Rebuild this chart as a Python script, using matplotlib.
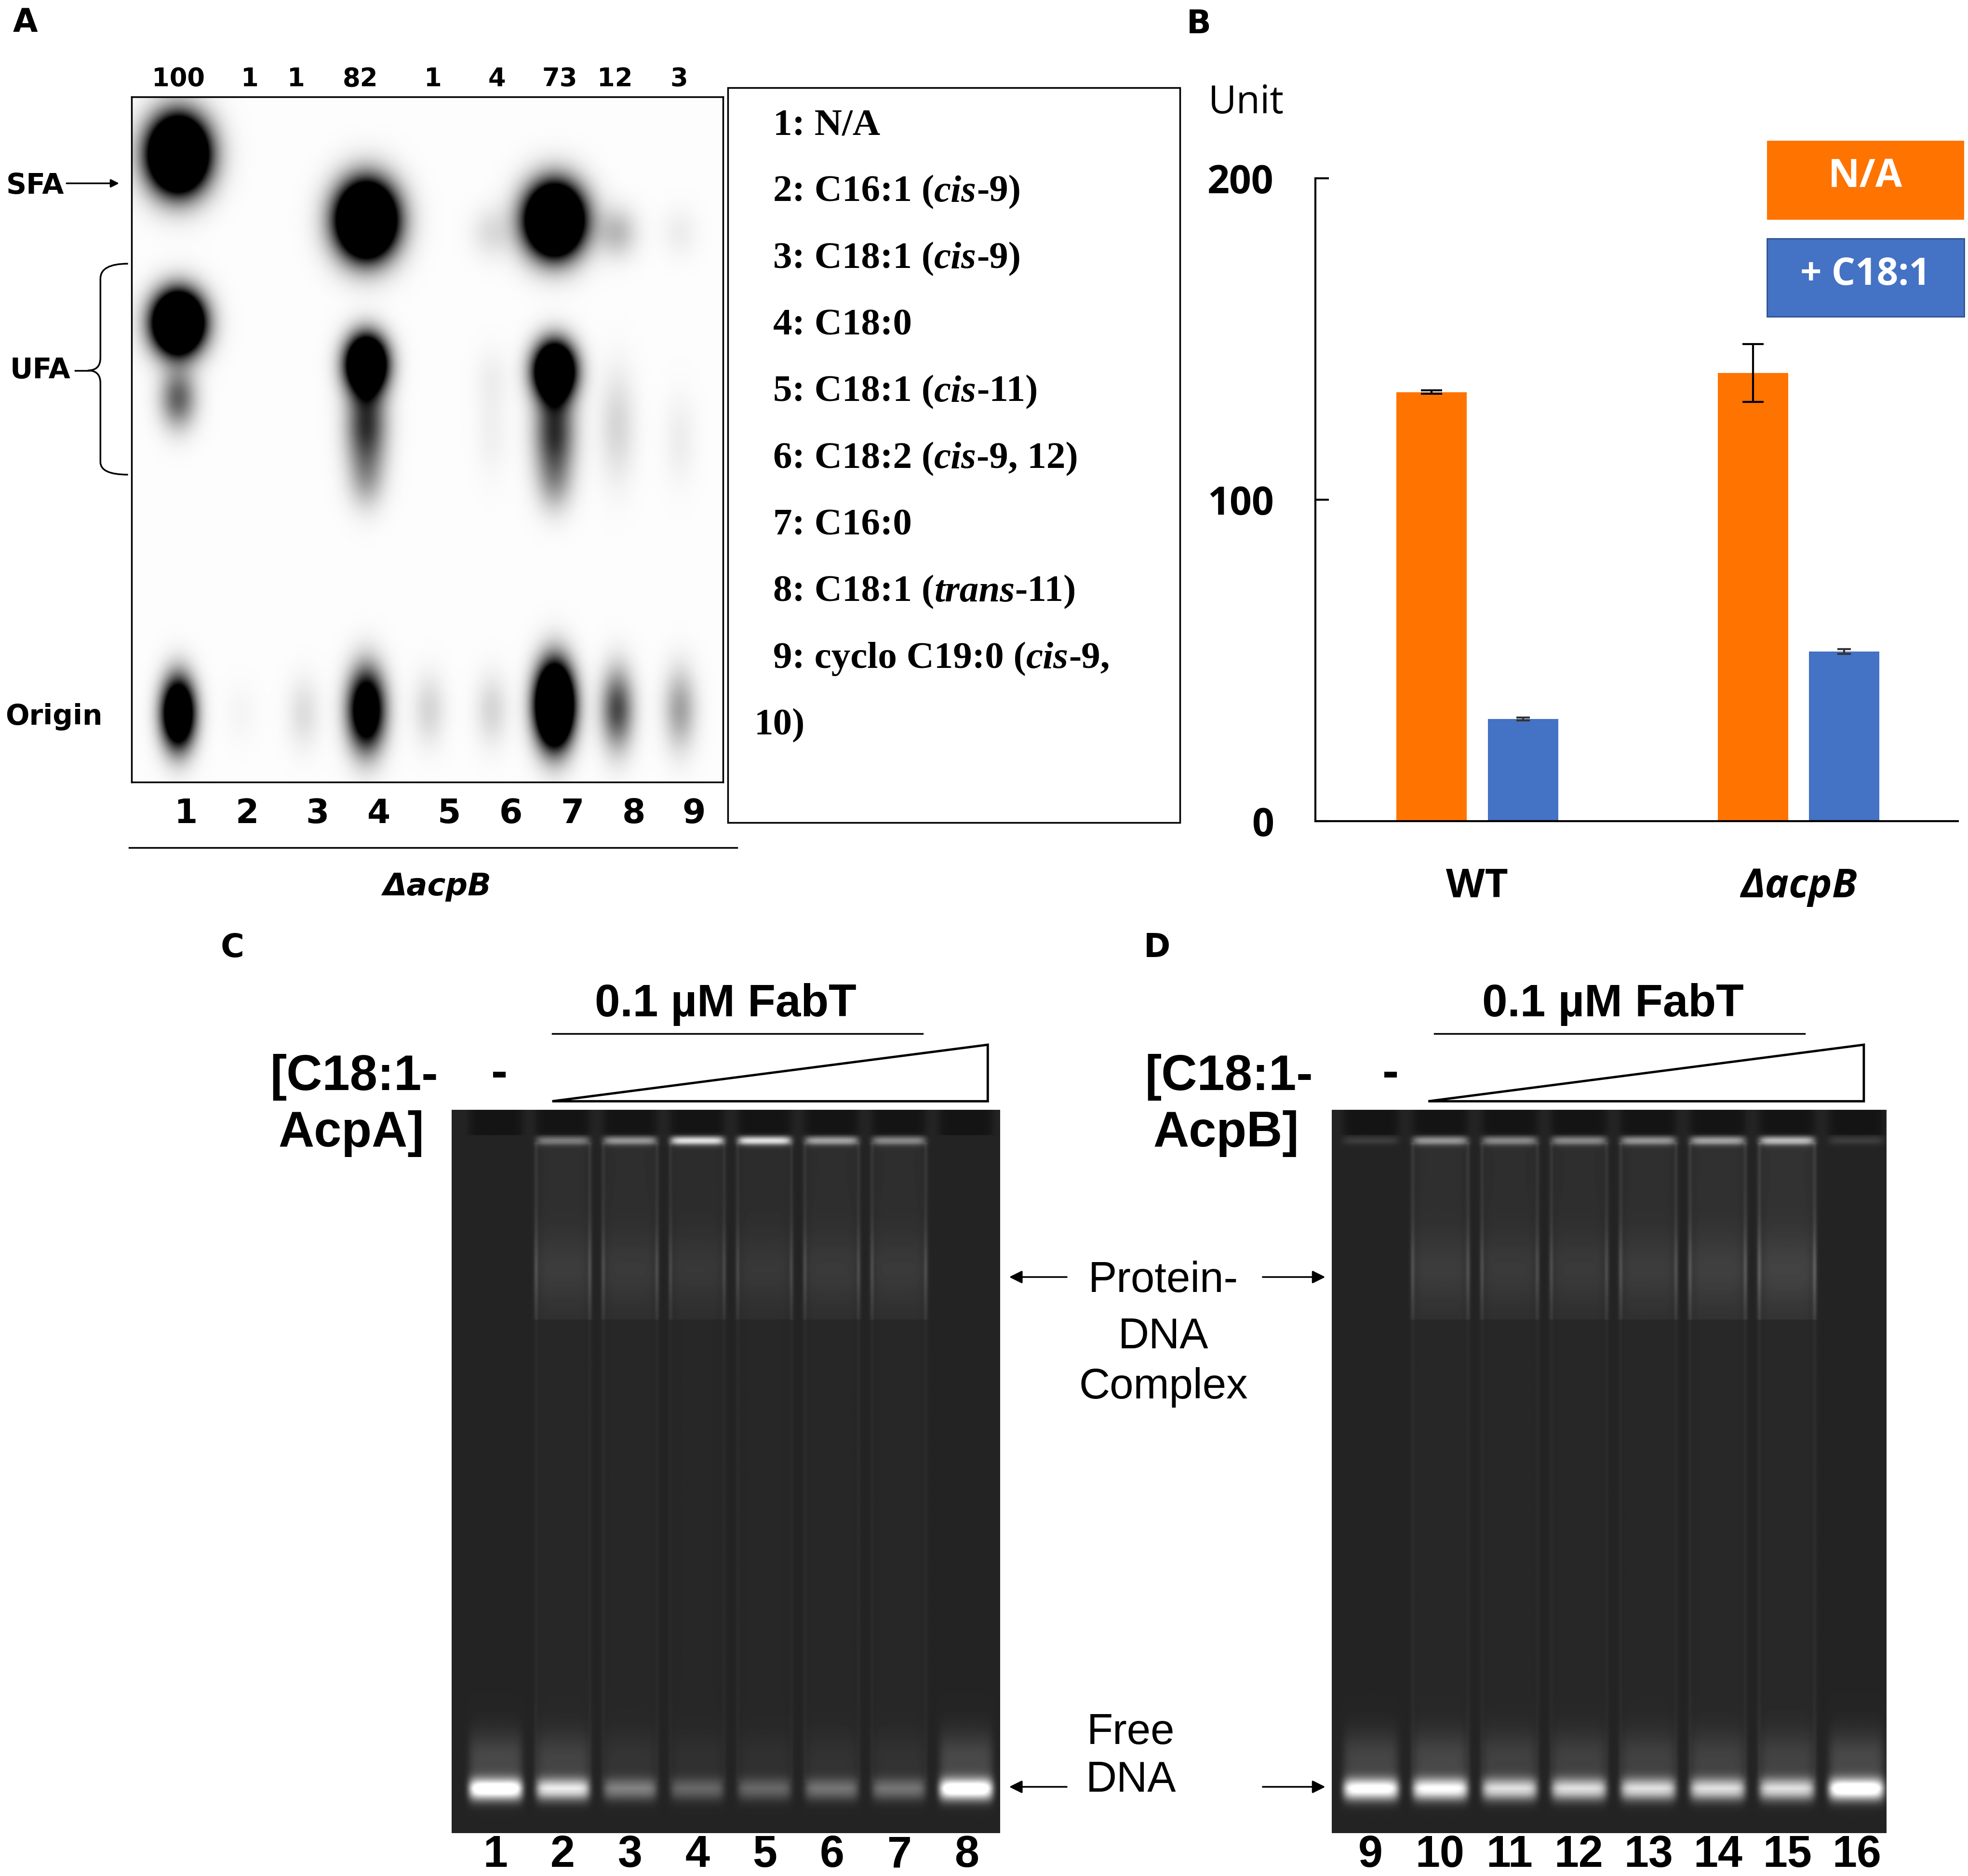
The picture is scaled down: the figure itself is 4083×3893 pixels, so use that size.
import numpy as np
import matplotlib.pyplot as plt
from matplotlib.patches import Rectangle, Polygon, PathPatch
from matplotlib.path import Path
from matplotlib.offsetbox import TextArea, HPacker, AnnotationBbox

# ---------------- data ----------------
# Panel A: TLC plate, lanes and the quantities printed over them
tlc_lanes = [1, 2, 3, 4, 5, 6, 7, 8, 9]
tlc_values = ['100', '1', '1', '82', '1', '4', '73', '12', '3']

# TLC spots: lane, position down the plate (0 = top, 1 = bottom), strength, spread
spot_lane = [1, 1, 1, 1, 2, 3, 4, 4, 4, 4, 4, 5, 6, 6, 6, 6,
             7, 7, 7, 7, 7, 8, 8, 8, 9, 9, 9]
spot_pos = [0.084, 0.33, 0.44, 0.90, 0.90, 0.90, 0.18, 0.39, 0.48, 0.56, 0.895,
            0.895, 0.198, 0.41, 0.49, 0.895, 0.18, 0.40, 0.49, 0.565, 0.888,
            0.198, 0.48, 0.894, 0.198, 0.50, 0.894]
spot_amp = [3.0, 3.0, 0.6, 2.0, 0.03, 0.12, 3.0, 2.5, 0.8, 0.25, 1.6,
            0.15, 0.12, 0.05, 0.05, 0.15, 3.0, 2.5, 0.8, 0.25, 3.0,
            0.25, 0.15, 0.7, 0.06, 0.06, 0.35]
spot_wx = [0.32, 0.27, 0.20, 0.18, 0.18, 0.18, 0.32, 0.22, 0.22, 0.20, 0.20,
           0.18, 0.22, 0.18, 0.18, 0.18, 0.31, 0.22, 0.22, 0.20, 0.20,
           0.22, 0.20, 0.18, 0.20, 0.18, 0.18]
spot_wy = [0.037, 0.030, 0.030, 0.035, 0.030, 0.035, 0.037, 0.028, 0.045, 0.030, 0.040,
           0.035, 0.025, 0.030, 0.045, 0.035, 0.035, 0.028, 0.045, 0.030, 0.040,
           0.025, 0.055, 0.040, 0.025, 0.045, 0.040]

legend_a = [('1: N/A', '', ''),
            ('2: C16:1 (', 'cis', '-9)'),
            ('3: C18:1 (', 'cis', '-9)'),
            ('4: C18:0', '', ''),
            ('5: C18:1 (', 'cis', '-11)'),
            ('6: C18:2 (', 'cis', '-9, 12)'),
            ('7: C16:0', '', ''),
            ('8: C18:1 (', 'trans', '-11)'),
            ('9: cyclo C19:0 (', 'cis', '-9,'),
            ('10)', '', '')]

# Panel B: bar chart
groups = ['WT', 'ΔacpB']
unit_na = [133.5, 139.5]
unit_na_err = [0.5, 9.0]
unit_c18 = [31.8, 52.8]
unit_c18_err = [0.4, 0.8]

# Panels C and D: EMSA gels, per-lane band strengths
gelC_lanes = [1, 2, 3, 4, 5, 6, 7, 8]
gelC_top = [0.0, 0.35, 0.45, 0.75, 0.75, 0.5, 0.4, 0.0]
gelC_complex = [0.0, 0.22, 0.20, 0.18, 0.18, 0.20, 0.20, 0.0]
gelC_free = [1.0, 0.75, 0.35, 0.25, 0.25, 0.30, 0.30, 1.0]

gelD_lanes = [9, 10, 11, 12, 13, 14, 15, 16]
gelD_top = [0.1, 0.45, 0.40, 0.40, 0.45, 0.50, 0.60, 0.1]
gelD_complex = [0.0, 0.22, 0.20, 0.20, 0.22, 0.25, 0.28, 0.0]
gelD_free = [0.9, 0.85, 0.70, 0.70, 0.70, 0.70, 0.70, 1.0]

# ---------------- layout helpers ----------------
W, H = 1568, 1494   # layout grid, 1 unit = 2.604 output pixels
orange = '#FF7300'
blue = '#4472C4'
sans = ['DejaVu Sans']
office = ['Open Sans', 'DejaVu Sans']
arial = ['Liberation Sans', 'DejaVu Sans']
serif = ['Liberation Serif', 'DejaVu Serif']


def rect(x0, y0, x1, y1):
    return [x0 / W, 1 - y1 / H, (x1 - x0) / W, (y1 - y0) / H]


fig = plt.figure(figsize=(40.83, 38.93), dpi=100)

# ---------------- panel A: TLC plate ----------------
axa = fig.add_axes(rect(105, 77, 576, 623))
x0, x1 = 0.26, 9.68
xs = np.linspace(x0, x1, 900)
ys = np.linspace(0, 1, 1050)
X, Y = np.meshgrid(xs, ys)
plate = np.zeros_like(X)
for ln, p, a, wx, wy in zip(spot_lane, spot_pos, spot_amp, spot_wx, spot_wy):
    plate += a * np.exp(-0.5 * (((X - ln) / wx) ** 2 + ((Y - p) / wy) ** 2))
plate = np.clip(plate, 0, 1) + 0.01
axa.imshow(plate, cmap='gray_r', vmin=0, vmax=1, extent=(x0, x1, 1, 0),
           aspect='auto', interpolation='bilinear')
axa.set_xlim(x0, x1)
axa.set_ylim(1, 0)
axa.set_xticks([])
axa.set_yticks([])
for s in axa.spines.values():
    s.set_linewidth(2.5)

# ---------------- panel B: bar chart ----------------
axb = fig.add_axes(rect(1048, 142, 1560, 654))
axb.patch.set_visible(False)
xg = np.arange(len(groups))
bw = 0.219
axb.bar(xg - 0.142, unit_na, bw, color=orange, yerr=unit_na_err,
        error_kw=dict(ecolor='black', elinewidth=3, capsize=16, capthick=3))
axb.bar(xg + 0.142, unit_c18, bw, color=blue, yerr=unit_c18_err,
        error_kw=dict(ecolor='#333333', elinewidth=3, capsize=10, capthick=3))
axb.set_xlim(-0.504, 1.496)
axb.set_ylim(0, 200)
axb.set_yticks([0, 100, 200])
axb.set_yticklabels(['0', '100', '200'], fontfamily=office, fontweight='bold')
axb.set_xticks(xg)
axb.set_xticklabels(groups, fontfamily=office, fontweight='bold')
axb.get_xticklabels()[1].set_fontstyle('italic')
for s in ['top', 'right']:
    axb.spines[s].set_visible(False)
for s in ['left', 'bottom']:
    axb.spines[s].set_linewidth(3)
axb.tick_params(axis='y', direction='in', length=20, width=3, pad=62, labelsize=58)
axb.tick_params(axis='x', length=0, pad=68, labelsize=60)


# ---------------- panels C and D: gels ----------------
def gel_image(lanes, top, cx, free, gx0, gx1):
    gx = np.linspace(gx0, gx1, 600)
    gy = np.linspace(0, 1, 800)
    GX, GY = np.meshgrid(gx, gy)
    img = np.full(GX.shape, 0.14)
    for c, t, m, f in zip(lanes, top, cx, free):
        d = np.abs(GX - c)
        body = np.exp(-(d / 0.40) ** 8)
        edge = np.exp(-((d - 0.40) / 0.03) ** 2)
        img -= 0.06 * body * (GY < 0.035)
        img += t * body * np.exp(-((GY - 0.042) / 0.006) ** 2)
        upper = ((GY > 0.045) & (GY < 0.29)).astype(float)
        img += m * (0.4 * body + 0.6 * edge) * upper * \
            (0.5 + 0.6 * np.exp(-((GY - 0.22) / 0.05) ** 2))
        img += m * 0.2 * (0.35 * body + 0.6 * edge) * ((GY >= 0.29) & (GY < 0.93))
        img += f * body * np.exp(-((GY - 0.94) / 0.015) ** 2)
        img += f * 0.15 * body * np.exp(-((GY - 0.90) / 0.04) ** 2) * (GY < 0.94)
    return np.clip(img, 0, 1)


def draw_gel(pos, lanes, top, cx, free, gx0, gx1):
    ax = fig.add_axes(pos)
    ax.imshow(gel_image(lanes, top, cx, free, gx0, gx1), cmap='gray', vmin=0, vmax=1,
              extent=(gx0, gx1, 1, 0), aspect='auto', interpolation='bilinear')
    ax.set_xlim(gx0, gx1)
    ax.set_ylim(1, 0)
    ax.set_yticks([])
    ax.set_xticks(lanes)
    ax.set_xticklabels([str(v) for v in lanes], fontfamily=arial, fontweight='bold')
    ax.tick_params(axis='x', length=0, pad=2, labelsize=66)
    for s in ax.spines.values():
        s.set_visible(False)
    return ax


draw_gel(rect(360, 884, 797, 1460), gelC_lanes, gelC_top, gelC_complex, gelC_free, 0.35, 8.5)
draw_gel(rect(1061, 884, 1503, 1460), gelD_lanes, gelD_top, gelD_complex, gelD_free, 8.44, 16.43)

# ---------------- overlay: labels, legend box, arrows ----------------
ax0 = fig.add_axes([0, 0, 1, 1])
ax0.set_xlim(0, W)
ax0.set_ylim(H, 0)
ax0.axis('off')

for lab, x, y in [('A', 20, 18), ('B', 955, 19), ('C', 185, 755), ('D', 922, 755)]:
    ax0.text(x, y, lab, ha='center', va='center', fontsize=48, fontweight='bold',
             fontfamily=sans)

# panel A labels
top_x = [142, 199, 236, 287, 345, 396, 446, 490, 541]
for x, v in zip(top_x, tlc_values):
    ax0.text(x, 63, v, ha='center', va='center', fontsize=38, fontweight='bold', fontfamily=sans)
bot_x = [148, 197, 253, 302, 358, 407, 456, 505, 553]
for x, v in zip(bot_x, tlc_lanes):
    ax0.text(x, 648, str(v), ha='center', va='center', fontsize=50, fontweight='bold',
             fontfamily=sans)
ax0.plot([103, 587], [675, 675], color='black', lw=2.5)
ax0.text(348, 706, 'ΔacpB', ha='center', va='center', fontsize=46, fontweight='bold',
         fontstyle='italic', fontfamily=sans)

ax0.text(28, 148, 'SFA', ha='center', va='center', fontsize=42, fontweight='bold', fontfamily=sans)
ax0.annotate('', xy=(96, 146), xytext=(52, 146),
             arrowprops=dict(arrowstyle='-|>', lw=2.5, color='black', mutation_scale=25))
ax0.text(32, 295, 'UFA', ha='center', va='center', fontsize=42, fontweight='bold', fontfamily=sans)
ax0.text(43, 571, 'Origin', ha='center', va='center', fontsize=42, fontweight='bold',
         fontfamily=sans)
brace = Path([(102, 210), (80, 210), (80, 222), (80, 285), (80, 295), (70, 295),
              (80, 295), (80, 305), (80, 368), (80, 378), (102, 378)],
             [Path.MOVETO, Path.CURVE3, Path.CURVE3, Path.LINETO, Path.CURVE3, Path.CURVE3,
              Path.CURVE3, Path.CURVE3, Path.LINETO, Path.CURVE3, Path.CURVE3])
ax0.add_patch(PathPatch(brace, fill=False, lw=2.5, color='black'))
ax0.plot([60, 71], [295, 295], color='black', lw=2.5)

# legend box between A and B
ax0.add_patch(Rectangle((580, 70), 360, 585, fill=False, lw=2.5, ec='black'))
for i, (a, b, c) in enumerate(legend_a):
    parts = [TextArea(a, textprops=dict(fontsize=57, fontweight='bold', fontfamily=serif))]
    if b:
        parts.append(TextArea(b, textprops=dict(fontsize=57, fontweight='bold',
                                                fontstyle='italic', fontfamily=serif)))
        parts.append(TextArea(c, textprops=dict(fontsize=57, fontweight='bold',
                                                fontfamily=serif)))
    box = HPacker(children=parts, pad=0, sep=0, align='baseline')
    xl = 601 if a == '10)' else 616
    ab = AnnotationBbox(box, (xl, 100 + 53.1 * i), xycoords='data', box_alignment=(0, 0.5),
                        frameon=False, pad=0)
    ax0.add_artist(ab)

# panel B extras
ax0.text(993, 82, 'Unit', ha='center', va='center', fontsize=58, fontfamily=office)
ax0.add_patch(Rectangle((1408, 112), 157, 63, fc=orange, ec='none'))
ax0.text(1486, 141, 'N/A', ha='center', va='center', fontsize=58, fontweight='bold',
         color='white', fontfamily=office)
ax0.add_patch(Rectangle((1408, 190), 157, 62, fc=blue, ec='#2F528F', lw=2))
ax0.text(1486, 219, '+ C18:1', ha='center', va='center', fontsize=56, fontweight='bold',
         color='white', fontfamily=office)

# panels C / D headers
for (tx, ly, lx0, lx1, wx0, wx1, dx, l1, l2, lbx) in [
        (578, 823, 440, 735, 440, 787, 398, '[C18:1-', 'AcpA]', 282),
        (1285, 823, 1143, 1438, 1138, 1485, 1108, '[C18:1-', 'AcpB]', 979)]:
    ax0.text(tx, 800, '0.1 µM FabT', ha='center', va='center', fontsize=68,
             fontweight='bold', fontfamily=arial)
    ax0.plot([lx0, lx1], [ly, ly], color='black', lw=2.5)
    ax0.add_patch(Polygon([(wx0, 877), (wx1, 832), (wx1, 877)], closed=True, fill=False,
                          lw=3.5, ec='black', joinstyle='miter'))
    ax0.text(dx, 856, '-', ha='center', va='center', fontsize=74, fontweight='bold',
             fontfamily=arial)
    ax0.text(lbx, 858, l1, ha='center', va='center', fontsize=74, fontweight='bold',
             fontfamily=arial)
    ax0.text(lbx - 2, 903, l2, ha='center', va='center', fontsize=74, fontweight='bold',
             fontfamily=arial)

# middle labels and arrows
for y, s in [(1020, 'Protein-'), (1065, 'DNA'), (1105, 'Complex')]:
    ax0.text(927, y, s, ha='center', va='center', fontsize=64, fontfamily=arial)
ax0.text(901, 1380, 'Free', ha='center', va='center', fontsize=64, fontfamily=arial)
ax0.text(901, 1418, 'DNA', ha='center', va='center', fontsize=64, fontfamily=arial)
for y in [1017, 1423]:
    ax0.annotate('', xy=(803, y), xytext=(851, y),
                 arrowprops=dict(arrowstyle='-|>', lw=2.5, color='black', mutation_scale=40))
    ax0.annotate('', xy=(1057, y), xytext=(1005, y),
                 arrowprops=dict(arrowstyle='-|>', lw=2.5, color='black', mutation_scale=40))

fig.savefig('out.png', dpi=100, facecolor='white')
